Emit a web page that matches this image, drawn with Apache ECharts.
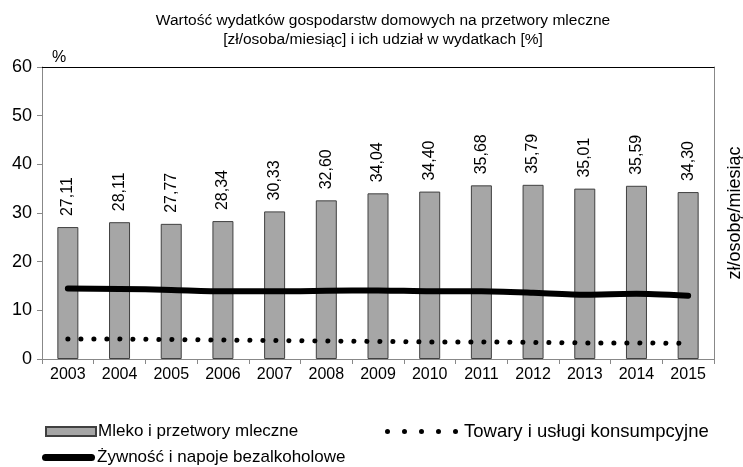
<!DOCTYPE html>
<html>
<head>
<meta charset="utf-8">
<script src="https://cdn.jsdelivr.net/npm/echarts@6/dist/echarts.min.js"></script>
<style>
  html, body { margin: 0; padding: 0; background: #fff; }
  #chart { width: 743px; height: 467px; }
</style>
</head>
<body>
<div id="chart"></div>
<script>
const years = ['2003', '2004', '2005', '2006', '2007', '2008', '2009', '2010', '2011', '2012', '2013', '2014', '2015']
const mleko = [27.11, 28.11, 27.77, 28.34, 30.33, 32.60, 34.04, 34.40, 35.68, 35.79, 35.01, 35.59, 34.30]
const zywnosc = [14.5, 14.4, 14.2, 13.9, 13.9, 14.0, 14.1, 13.9, 13.9, 13.6, 13.2, 13.4, 13.0]
const towary = [4.1, 4.1, 4.0, 3.9, 3.8, 3.7, 3.6, 3.5, 3.5, 3.4, 3.3, 3.3, 3.2]

const font = 'Liberation Sans, Arial, sans-serif'
const chart = echarts.init(document.getElementById('chart'))

// legend icons
const dot = x => 'M' + x + ',2.5a2.5,2.5 0 1,0 5,0a2.5,2.5 0 1,0 -5,0'
const dotsIcon = 'path://' + [0, 17, 34, 51, 68].map(dot).join('')
const thickIcon = 'path://M3.5,0L49.5,0A3.5,3.5 0 0 1 49.5,7L3.5,7A3.5,3.5 0 0 1 3.5,0Z'

const legendText = { fontFamily: font, fontSize: 17, color: '#000', padding: [0, 0, 0, -3] }

const option = {
  animation: false,
  textStyle: { fontFamily: font, color: '#000' },
  title: {
    text: 'Wartość wydatków gospodarstw domowych na przetwory mleczne\n[zł/osoba/miesiąc] i ich udział w wydatkach [%]',
    left: 378,
    textAlign: 'center',
    top: 6,
    textStyle: { fontFamily: font, fontSize: 15.5, fontWeight: 'normal', color: '#000', lineHeight: 19 }
  },
  grid: { left: 42, right: 29, top: 67, bottom: 108, outerBoundsMode: 'none', containLabel: false },
  legend: [
    {
      data: [{ name: 'Mleko i przetwory mleczne', icon: 'rect' }],
      left: 40, top: 418, itemWidth: 50, itemHeight: 9,
      textStyle: legendText
    },
    {
      data: [{ name: 'Towary i usługi konsumpcyjne', icon: dotsIcon }],
      left: 380, top: 417, itemWidth: 73, itemHeight: 5,
      textStyle: Object.assign({}, legendText, { fontSize: 18.5, padding: [0, 0, 0, 1] })
    },
    {
      data: [{ name: 'Żywność i napoje bezalkoholowe', icon: thickIcon }],
      left: 37, top: 444, itemWidth: 53, itemHeight: 7,
      textStyle: legendText
    }
  ],
  xAxis: [
    {
      type: 'category',
      data: years,
      axisLine: { lineStyle: { color: '#888', width: 1 } },
      axisTick: { show: true, length: 5, lineStyle: { color: '#888' } },
      axisLabel: { fontFamily: font, fontSize: 16, color: '#000', margin: 8 }
    },
    {
      type: 'category',
      data: years,
      position: 'top',
      axisLine: { show: true, onZero: false, lineStyle: { color: '#000', width: 1 } },
      axisTick: { show: false },
      axisLabel: { show: false }
    }
  ],
  yAxis: [
    {
      type: 'value',
      min: 0, max: 60, interval: 10,
      name: '%',
      nameLocation: 'end',
      nameGap: 1,
      nameTextStyle: { fontFamily: font, fontSize: 16, color: '#000', align: 'left', padding: [0, 0, 0, 10] },
      axisLine: { show: true, lineStyle: { color: '#888' } },
      axisTick: { show: true, length: 5, lineStyle: { color: '#888' } },
      axisLabel: { fontFamily: font, fontSize: 18, color: '#000', margin: 10 },
      splitLine: { show: false }
    },
    {
      type: 'value',
      min: 0, max: 60, interval: 10,
      position: 'right',
      name: 'zł/osobę/miesiąc',
      nameLocation: 'middle',
      nameRotate: 90,
      nameGap: 12,
      nameTextStyle: { fontFamily: font, fontSize: 18, color: '#000' },
      axisLine: { show: true, lineStyle: { color: '#888' } },
      axisTick: { show: false },
      axisLabel: { show: false },
      splitLine: { show: false }
    }
  ],
  series: [
    {
      name: 'Mleko i przetwory mleczne',
      type: 'bar',
      data: mleko,
      barWidth: 21,
      itemStyle: { color: '#a6a6a6', borderColor: '#404040', borderWidth: 1 },
      label: {
        show: true,
        position: 'top',
        rotate: 90,
        align: 'left',
        verticalAlign: 'middle',
        distance: 11,
        fontFamily: font,
        fontSize: 16,
        color: '#000',
        formatter: p => p.value.toFixed(2).replace('.', ',')
      },
      z: 1
    },
    {
      name: 'Żywność i napoje bezalkoholowe',
      type: 'line',
      data: zywnosc,
      symbol: 'none',
      smooth: 0.2,
      itemStyle: { color: '#000' },
      lineStyle: { color: '#000', width: 6, cap: 'round' },
      z: 3
    },
    {
      name: 'Towary i usługi konsumpcyjne',
      type: 'line',
      data: towary,
      symbol: 'none',
      itemStyle: { color: '#000' },
      lineStyle: { color: '#000', width: 5, type: [0.1, 12.9], cap: 'round' },
      z: 3
    }
  ]
}

chart.setOption(option)

window.onresize = () => {
  chart.resize()
}
</script>
</body>
</html>
